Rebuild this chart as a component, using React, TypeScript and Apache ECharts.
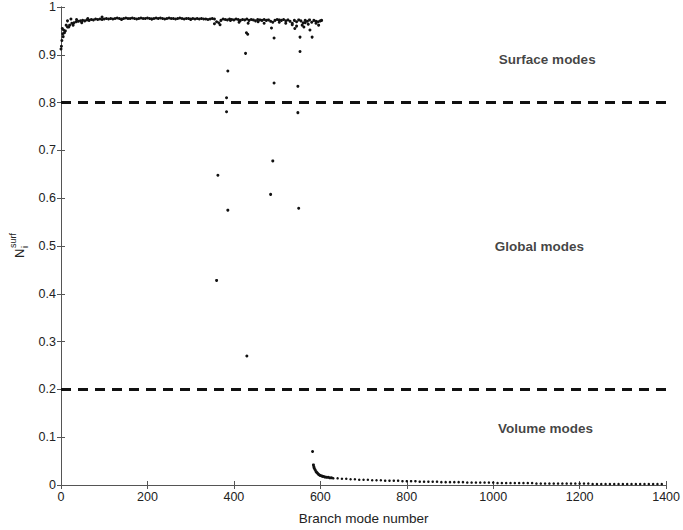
import React, { useEffect, useRef } from "react";
import * as echarts from "echarts";

// Surface-mode band: values at branch mode numbers 0, 5, 10, ... 600
const surfaceStep = 5;
const surfaceValues = [
  0.912, 0.938, 0.950, 0.958, 0.962, 0.966, 0.967, 0.969, 0.970, 0.971,
  0.972, 0.971, 0.973, 0.972, 0.974, 0.973, 0.975, 0.974, 0.975, 0.974,
  0.975, 0.976, 0.975, 0.976, 0.975, 0.976, 0.977, 0.976, 0.975, 0.976,
  0.977, 0.976, 0.976, 0.977, 0.976, 0.975, 0.976, 0.977, 0.976, 0.976,
  0.977, 0.976, 0.975, 0.976, 0.977, 0.976, 0.977, 0.976, 0.975, 0.976,
  0.977, 0.976, 0.976, 0.975, 0.976, 0.977, 0.976, 0.975, 0.976, 0.976,
  0.975, 0.976, 0.975, 0.976, 0.975, 0.976, 0.975, 0.975, 0.974, 0.975,
  0.976, 0.975, 0.969, 0.967, 0.972, 0.975, 0.974, 0.973, 0.975, 0.974,
  0.973, 0.975, 0.974, 0.972, 0.974, 0.973, 0.975, 0.972, 0.974, 0.973,
  0.971, 0.974, 0.973, 0.972, 0.974, 0.972, 0.973, 0.970, 0.968, 0.972,
  0.974, 0.973, 0.972, 0.974, 0.971, 0.973, 0.970, 0.966, 0.972, 0.969,
  0.973, 0.971, 0.967, 0.972, 0.970, 0.973, 0.968, 0.972, 0.970, 0.969,
  0.971,
];

// Extra scattered surface-mode points [mode number, N]
const surfaceExtra: [number, number][] = [
  [1, 0.918], [2, 0.93], [3, 0.955], [4, 0.944], [6, 0.952], [8, 0.946],
  [12, 0.962], [15, 0.971], [18, 0.958], [23, 0.975], [28, 0.962],
  [36, 0.974], [48, 0.967], [62, 0.976], [95, 0.979], [140, 0.974],
  [210, 0.975], [300, 0.974], [355, 0.965], [368, 0.963], [392, 0.972],
  [412, 0.968], [433, 0.966], [456, 0.969], [470, 0.966], [505, 0.968],
  [520, 0.966], [535, 0.963], [545, 0.96], [558, 0.962], [565, 0.967],
  [572, 0.964], [590, 0.966], [596, 0.962], [603, 0.972],
];

// Isolated outliers [mode number, N]
const outliers: [number, number][] = [
  [360, 0.428], [363, 0.648], [383, 0.81], [383, 0.781], [386, 0.575],
  [386, 0.866], [427, 0.903], [429, 0.946], [432, 0.943], [430, 0.27],
  [485, 0.608], [487, 0.956], [490, 0.678], [493, 0.935], [493, 0.841],
  [548, 0.834], [548, 0.779], [550, 0.579], [553, 0.907], [553, 0.937],
  [581, 0.937], [541, 0.955], [562, 0.958], [576, 0.952],
];

// Volume-mode points [mode number, N]
const volumeHead: [number, number][] = [
  [582, 0.07], [584, 0.042], [585, 0.038], [586, 0.035], [588, 0.032],
  [590, 0.028], [592, 0.026], [594, 0.024], [596, 0.022], [598, 0.021],
  [600, 0.02], [603, 0.019], [606, 0.018], [610, 0.017], [614, 0.016],
  [618, 0.016], [622, 0.015], [626, 0.015],
];
const volumeStart = 630;
const volumeStep = 10;
const volumeValues = [
  0.014, 0.014, 0.013, 0.013, 0.012, 0.012, 0.011, 0.011, 0.011, 0.010,
  0.010, 0.010, 0.009, 0.009, 0.009, 0.009, 0.008, 0.008, 0.008, 0.008,
  0.007, 0.007, 0.007, 0.007, 0.007, 0.006, 0.006, 0.006, 0.006, 0.006,
  0.006, 0.005, 0.005, 0.005, 0.005, 0.005, 0.005, 0.005, 0.004, 0.004,
  0.004, 0.004, 0.004, 0.004, 0.004, 0.004, 0.004, 0.003, 0.003, 0.003,
  0.003, 0.003, 0.003, 0.003, 0.003, 0.003, 0.003, 0.003, 0.003, 0.003,
  0.002, 0.002, 0.002, 0.002, 0.002, 0.002, 0.002, 0.002, 0.002, 0.002,
  0.002, 0.002, 0.002, 0.002, 0.002, 0.002, 0.002,
];

const thresholds = [0.8, 0.2];
const regionLabels: [number, number, string][] = [
  [1125, 0.89, "Surface modes"],
  [1107, 0.499, "Global modes"],
  [1121, 0.119, "Volume modes"],
];

const xTitle = "Branch mode number";

export default function App() {
  const ref = useRef<HTMLDivElement>(null);
  useEffect(() => {
    document.body.style.margin = "0";
    if (!ref.current) return;
    const chart = echarts.init(ref.current, null, { renderer: "svg" });
    const font = "'Liberation Sans', Arial, sans-serif";
    const surfaceData = surfaceValues.map((v, i) => [i * surfaceStep, v]);
    const volumeData = volumeValues.map((v, i) => [volumeStart + i * volumeStep, v]);
    const dotStyle = { color: "#111", opacity: 1 };
    const axisCommon = {
      min: 0,
      axisLine: { show: true, lineStyle: { color: "#555", width: 1 } },
      axisTick: { show: true, inside: true, length: 4, lineStyle: { color: "#555" } },
      splitLine: { show: false },
    };
    chart.setOption({
      animation: false,
      backgroundColor: "#fff",
      grid: { left: 61, top: 7, width: 606, height: 479, containLabel: false },
      xAxis: [
        {
          ...axisCommon,
          type: "value",
          max: 1400,
          interval: 200,
          name: xTitle,
          nameLocation: "middle",
          nameGap: 26,
          nameTextStyle: { fontFamily: font, fontSize: 13.5, color: "#222" },
          axisLabel: {
            fontFamily: font,
            fontSize: 12.5,
            color: "#222",
            margin: 5,
            formatter: (v: number) => String(v),
          },
        },
        {
          ...axisCommon,
          type: "value",
          position: "top",
          max: 1400,
          interval: 200,
          axisLabel: { show: false },
        },
      ],
      yAxis: [
        {
          ...axisCommon,
          type: "value",
          max: 1,
          interval: 0.1,
          axisLabel: { fontFamily: font, fontSize: 12.5, color: "#222", margin: 5 },
        },
        {
          ...axisCommon,
          type: "value",
          position: "right",
          max: 1,
          interval: 0.1,
          axisLabel: { show: false },
        },
      ],
      series: [
        {
          type: "scatter",
          data: surfaceData,
          symbolSize: 3,
          itemStyle: dotStyle,
          markLine: {
            silent: true,
            symbol: "none",
            label: { show: false },
            lineStyle: { color: "#111", width: 3, type: [10, 7] },
            data: thresholds.map((t) => ({ yAxis: t })),
          },
        },
        { type: "scatter", data: surfaceExtra, symbolSize: 3, itemStyle: dotStyle },
        { type: "scatter", data: outliers, symbolSize: 3, itemStyle: dotStyle },
        { type: "scatter", data: volumeHead, symbolSize: 3, itemStyle: dotStyle },
        { type: "scatter", data: volumeData, symbolSize: 2.5, itemStyle: dotStyle },
        {
          type: "scatter",
          symbolSize: 0,
          data: regionLabels.map(([x, y, t]) => ({ value: [x, y], name: t })),
          label: {
            show: true,
            position: "inside",
            formatter: (p: any) => p.name,
            fontFamily: font,
            fontSize: 13.5,
            fontWeight: "bold",
            color: "#111",
          },
        },
      ],
      graphic: [
        {
          type: "group",
          x: 19,
          y: 246,
          rotation: Math.PI / 2,
          children: [
            {
              type: "text",
              x: -12,
              y: 0,
              style: { text: "N", fontFamily: font, fontSize: 13, fill: "#222", textVerticalAlign: "middle" },
            },
            {
              type: "text",
              x: -2,
              y: -6,
              style: { text: "surf", fontFamily: font, fontSize: 9, fill: "#222", textVerticalAlign: "middle" },
            },
            {
              type: "text",
              x: -2,
              y: 6,
              style: { text: "i", fontFamily: font, fontSize: 9, fill: "#222", textVerticalAlign: "middle" },
            },
          ],
        },
      ],
    });
    return () => chart.dispose();
  }, []);
  return <div ref={ref} style={{ width: 683, height: 530 }} />;
}
